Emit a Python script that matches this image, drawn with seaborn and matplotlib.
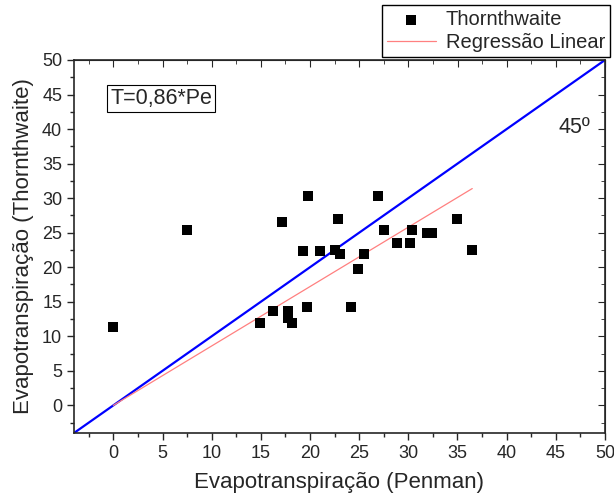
import matplotlib
matplotlib.use("Agg")
import matplotlib.pyplot as plt
from matplotlib.ticker import MultipleLocator
import seaborn as sns
import pandas as pd
import numpy as np

# Data
penman = [0.0, 7.5, 17.2, 19.8, 19.3, 21.0, 22.5, 23.1, 22.8, 26.9, 35.0, 27.5,
          30.4, 31.9, 32.4, 25.5, 28.8, 30.2, 36.5, 24.9, 16.2, 17.8, 17.8, 18.2,
          14.9, 19.7, 24.2]
thornthwaite = [11.3, 25.4, 26.5, 30.3, 22.3, 22.3, 22.5, 21.9, 27.0, 30.3, 27.0, 25.4,
                25.4, 24.9, 24.9, 21.9, 23.5, 23.5, 22.5, 19.7, 13.6, 13.6, 12.6, 11.9,
                11.9, 14.3, 14.3]
reg_x = [0.0, 36.5]
slope = 0.86
line45_x = [-4, 50]

sns.set_style("ticks")
plt.rcParams['font.family'] = ['Liberation Sans', 'DejaVu Sans']

df = pd.DataFrame({"Penman": penman, "Thornthwaite": thornthwaite})
reg = pd.DataFrame({"x": reg_x, "y": [slope * v for v in reg_x]})
l45 = pd.DataFrame({"x": line45_x, "y": line45_x})

fig = plt.figure(figsize=(6.14, 4.93), dpi=100)
ax = fig.add_axes([74/614, 1-433/493, (605-74)/614, (433-60)/493])

sns.lineplot(data=l45, x="x", y="y", ax=ax, color="#0000ff", lw=1.6, legend=False)
sns.lineplot(data=reg, x="x", y="y", ax=ax, color="#ff8080", lw=0.9,
             label="Regressão Linear", legend=False)
sns.scatterplot(data=df, x="Penman", y="Thornthwaite", ax=ax, marker="s", s=60,
                color="black", edgecolor="black", linewidth=0, label="Thornthwaite",
                legend=False, zorder=3)

ax.set_xlim(-4, 50)
ax.set_ylim(-4, 50)
ax.xaxis.set_major_locator(MultipleLocator(5))
ax.yaxis.set_major_locator(MultipleLocator(5))
ax.xaxis.set_minor_locator(MultipleLocator(2.5))
ax.yaxis.set_minor_locator(MultipleLocator(2.5))
ax.tick_params(which="both", direction="out", labelsize=13, width=1.0)
ax.tick_params(which="major", length=5)
ax.tick_params(which="minor", length=3)
for s in ax.spines.values():
    s.set_linewidth(1.2)
    s.set_visible(True)

ax2 = ax.secondary_xaxis("top")
ax2.xaxis.set_major_locator(MultipleLocator(5))
ax2.xaxis.set_minor_locator(MultipleLocator(2.5))
ax2.tick_params(which="both", direction="in", labeltop=False)
ax2.tick_params(which="major", length=5)
ax2.tick_params(which="minor", length=3)
ax3 = ax.secondary_yaxis("right")
ax3.yaxis.set_major_locator(MultipleLocator(5))
ax3.yaxis.set_minor_locator(MultipleLocator(2.5))
ax3.tick_params(which="both", direction="in", labelright=False)
ax3.tick_params(which="major", length=5)
ax3.tick_params(which="minor", length=3)
ax.tick_params(which="both", top=False, right=False)

ax.set_xlabel("Evapotranspiração (Penman)", fontsize=16, labelpad=7)
ax.set_ylabel("Evapotranspiração (Thornthwaite)", fontsize=16, labelpad=6)

ax.text(-0.3, 44.4, "T=0,86*Pe", fontsize=15.5, va="center", ha="left",
        bbox=dict(boxstyle="square,pad=0.15", fc="white", ec="black", lw=0.8))
ax.text(45.3, 40.3, "45º", fontsize=15.5, va="center", ha="left")

h, l = ax.get_legend_handles_labels()
order = [l.index("Thornthwaite"), l.index("Regressão Linear")]
fig.legend([h[i] for i in order], [l[i] for i in order],
           loc="upper right", bbox_to_anchor=(610/614, 1-5/493), fontsize=14.5,
           frameon=True, fancybox=False, edgecolor="black", framealpha=1,
           borderpad=0.25, labelspacing=0.2, handlelength=2.4, handletextpad=0.5,
           borderaxespad=0, markerscale=0.85)

fig.savefig("out.png", dpi=100)
